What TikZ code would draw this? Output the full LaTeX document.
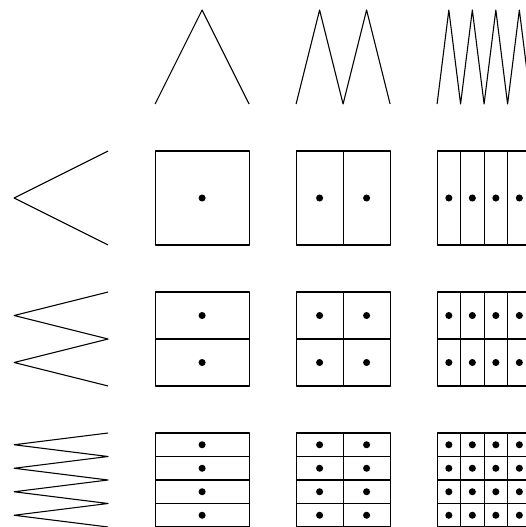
\documentclass[tikz,border=0pt]{standalone}
\usetikzlibrary{calc}

\begin{document}
\begin{tikzpicture}[line width=0.65pt, line join=round,
    dot/.style={fill=black}]
  \useasboundingbox (-0.3,0.213) rectangle (10.89,-11.0);
  \clip (-0.3,0.213) rectangle (10.89,-11.0);
  % zigzags along the top
  \foreach \i in {0,1,2} {
    \pgfmathtruncatemacro\n{2^\i}
    \pgfmathsetmacro\w{2/\n}
    \draw (3+3*\i,-2) \foreach \k in {1,...,\n} { -- ++(\w/2,2) -- ++(\w/2,-2) };
  }
  % zigzags down the left
  \foreach \j in {0,1,2} {
    \pgfmathtruncatemacro\n{2^\j}
    \pgfmathsetmacro\h{2/\n}
    \draw (2,-3-3*\j) \foreach \k in {1,...,\n} { -- ++(-2,-\h/2) -- ++(2,-\h/2) };
  }
  % subdivided squares with a dot in every cell
  \foreach \i in {0,1,2} {
    \foreach \j in {0,1,2} {
      \pgfmathtruncatemacro\nx{2^\i}
      \pgfmathtruncatemacro\ny{2^\j}
      \pgfmathsetmacro\w{2/\nx}
      \pgfmathsetmacro\h{2/\ny}
      \foreach \a in {1,...,\nx} {
        \foreach \b in {1,...,\ny} {
          \coordinate (c) at ({3+3*\i+(\a-1)*\w},{-3-3*\j-(\b-1)*\h});
          \draw (c) rectangle ++(\w,-\h);
          \fill[dot] ($(c)+(\w/2,-\h/2)$) circle (0.075);
        }
      }
    }
  }
\end{tikzpicture}
\end{document}
